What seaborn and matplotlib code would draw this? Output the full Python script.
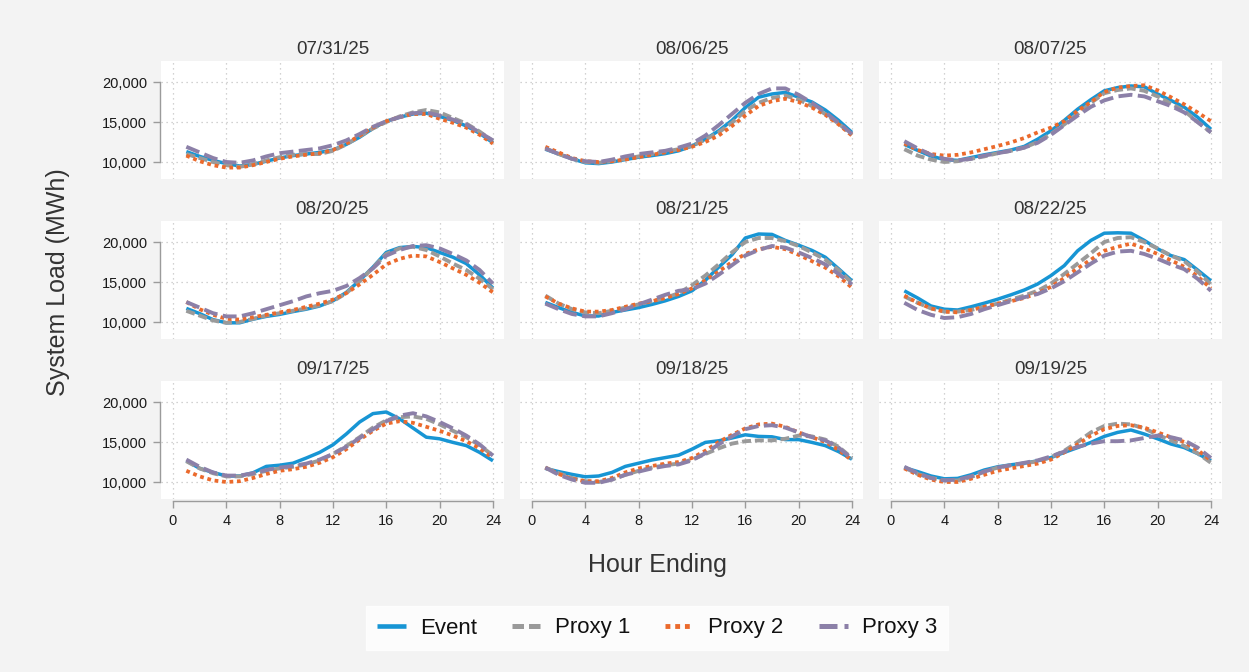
import matplotlib
matplotlib.use("Agg")
import matplotlib.pyplot as plt
from matplotlib.lines import Line2D
from matplotlib.ticker import FuncFormatter
import seaborn as sns
import pandas as pd

# ---- data -------------------------------------------------------------
hours = list(range(1, 25))
dates = ["07/31/25", "08/06/25", "08/07/25",
         "08/20/25", "08/21/25", "08/22/25",
         "09/17/25", "09/18/25", "09/19/25"]
series_names = ["Event", "Proxy 1", "Proxy 2", "Proxy 3"]

event_load = [
    [11300, 10700, 10200, 9800, 9500, 9700, 10100, 10500, 10800, 11000, 11200, 11500, 12200, 13100, 14200, 15100, 15600, 16000, 16100, 15700, 15200, 14500, 13600, 12400],
    [11600, 11000, 10400, 9900, 9800, 10000, 10300, 10600, 10800, 11050, 11400, 12000, 12850, 13900, 15200, 16800, 18100, 18500, 18700, 18100, 17500, 16500, 15200, 13700],
    [12200, 11450, 10750, 10300, 10200, 10550, 10900, 11200, 11500, 11950, 12850, 13900, 15200, 16600, 17800, 18900, 19300, 19500, 19400, 18500, 17700, 16850, 15600, 14100],
    [11700, 11050, 10300, 9900, 9900, 10350, 10700, 10950, 11300, 11600, 12000, 12650, 13700, 15200, 16850, 18700, 19300, 19450, 19300, 18700, 18100, 17300, 15900, 14250],
    [12450, 11800, 11200, 10750, 10750, 11200, 11500, 11800, 12200, 12650, 13200, 13900, 15200, 16850, 18400, 20500, 21000, 20950, 20200, 19600, 18950, 18100, 16650, 15150],
    [13900, 13000, 12000, 11600, 11500, 11900, 12350, 12850, 13400, 14000, 14750, 15800, 17050, 18900, 20200, 21100, 21150, 21100, 20200, 19150, 18300, 17800, 16500, 15150],
    [12650, 11700, 11200, 10750, 10750, 11150, 11950, 12100, 12350, 13000, 13700, 14650, 16000, 17500, 18550, 18750, 17900, 16750, 15600, 15400, 14950, 14550, 13700, 12650],
    [11700, 11300, 10950, 10650, 10750, 11200, 11950, 12350, 12750, 13050, 13350, 14100, 14950, 15150, 15500, 15900, 15700, 15650, 15300, 15300, 14950, 14550, 13800, 12850],
    [11800, 11300, 10750, 10400, 10450, 10900, 11500, 11900, 12150, 12350, 12650, 13050, 13700, 14300, 14950, 15700, 16200, 16500, 16000, 15400, 14750, 14300, 13550, 12650],
]
proxy1_load = [
    [11000, 10500, 10000, 9600, 9400, 9700, 10200, 10600, 10900, 11000, 11000, 11400, 12200, 13200, 14200, 15000, 15700, 16200, 16500, 16200, 15500, 14800, 13800, 12600],
    [11700, 11000, 10400, 10000, 9900, 10100, 10400, 10700, 11000, 11300, 11600, 12000, 12800, 13700, 14900, 16400, 17400, 18000, 18300, 17800, 17000, 16000, 14800, 13400],
    [11600, 10800, 10300, 10000, 10100, 10400, 10700, 11100, 11400, 11800, 12500, 13500, 14700, 16000, 17400, 18600, 19000, 19200, 18900, 18200, 17300, 16400, 15000, 13700],
    [11400, 10800, 10200, 9900, 10000, 10400, 10800, 11100, 11400, 11700, 12100, 12600, 13600, 15100, 16800, 18500, 19200, 19400, 19000, 18200, 17300, 16500, 15400, 14100],
    [13300, 12300, 11600, 11200, 11100, 11400, 11800, 12200, 12600, 13000, 13600, 14600, 15800, 17200, 18700, 20000, 20500, 20500, 20100, 19500, 18700, 17800, 16500, 14900],
    [13200, 12400, 11700, 11300, 11300, 11500, 11900, 12300, 12800, 13300, 13900, 14800, 16000, 17300, 18600, 20000, 20500, 20600, 20000, 19200, 18300, 17600, 16300, 14700],
    [12600, 11700, 11100, 10700, 10700, 11000, 11400, 11700, 11900, 12200, 12700, 13500, 14500, 15600, 16800, 17700, 18100, 18200, 17900, 17200, 16400, 15600, 14600, 13300],
    [11800, 11100, 10500, 10100, 10000, 10300, 10900, 11400, 11800, 12100, 12300, 12800, 13500, 14200, 14800, 15100, 15200, 15200, 15400, 15800, 15700, 15300, 14400, 13000],
    [11800, 11000, 10500, 10200, 10200, 10600, 11300, 11800, 12100, 12300, 12600, 13100, 13900, 15000, 16200, 17000, 17300, 17200, 16700, 15900, 15200, 14500, 13600, 12400],
]
proxy2_load = [
    [10800, 10100, 9600, 9300, 9300, 9600, 10000, 10400, 10700, 10900, 11100, 11500, 12300, 13300, 14300, 15100, 15600, 16000, 16000, 15400, 14900, 14300, 13400, 12300],
    [11900, 11200, 10500, 10100, 10000, 10100, 10300, 10600, 10900, 11200, 11500, 11900, 12500, 13300, 14500, 15800, 17000, 17600, 17900, 17500, 16800, 15900, 14700, 13300],
    [12300, 11500, 11000, 10800, 10900, 11200, 11600, 12000, 12450, 13000, 13700, 14300, 15100, 16400, 17500, 18750, 19300, 19500, 19600, 18950, 18100, 17200, 16200, 15100],
    [12500, 11600, 10900, 10400, 10300, 10600, 10900, 11200, 11500, 11900, 12300, 12800, 13600, 14700, 15900, 17200, 17900, 18300, 18200, 17500, 16700, 15900, 14900, 13700],
    [13200, 12300, 11700, 11300, 11300, 11500, 11900, 12300, 12600, 13000, 13500, 14200, 15200, 16300, 17500, 18500, 19100, 19400, 19100, 18400, 17600, 16800, 15700, 14300],
    [13300, 12400, 11700, 11300, 11200, 11500, 11900, 12300, 12600, 13000, 13600, 14400, 15500, 16700, 17800, 18900, 19400, 19800, 19200, 18500, 17700, 16900, 15700, 14200],
    [11400, 10700, 10200, 10000, 10100, 10500, 11000, 11400, 11600, 11900, 12400, 13100, 14100, 15300, 16400, 17300, 17600, 17400, 16900, 16400, 15800, 15100, 14200, 13000],
    [11800, 11000, 10400, 10100, 10100, 10500, 11200, 11700, 12000, 12300, 12500, 13000, 13900, 15000, 15900, 16700, 17200, 17300, 16900, 16200, 15600, 15000, 14000, 12700],
    [11700, 10900, 10300, 10000, 10000, 10400, 10900, 11400, 11700, 12000, 12300, 12800, 13700, 14700, 15800, 16600, 17000, 17100, 16800, 16200, 15600, 15000, 14000, 12700],
]
proxy3_load = [
    [11900, 11200, 10500, 10000, 9900, 10200, 10700, 11100, 11300, 11500, 11700, 12100, 12700, 13500, 14400, 15100, 15600, 16100, 16200, 15800, 15300, 14700, 13700, 12700],
    [11700, 11000, 10400, 10100, 10000, 10300, 10700, 11000, 11200, 11400, 11800, 12300, 13300, 14600, 16000, 17400, 18500, 19200, 19200, 18400, 17400, 16200, 14900, 13500],
    [12600, 11700, 10900, 10400, 10200, 10400, 10800, 11100, 11400, 11800, 12400, 13400, 14600, 15800, 16900, 17700, 18200, 18400, 18200, 17600, 17000, 16200, 15000, 13700],
    [12500, 11800, 11100, 10700, 10700, 11100, 11600, 12100, 12600, 13200, 13600, 13900, 14500, 15500, 16700, 18300, 19000, 19500, 19600, 19200, 18500, 17700, 16500, 14800],
    [12300, 11600, 11000, 10700, 10700, 11100, 11600, 12200, 12800, 13400, 13900, 14100, 14800, 15900, 17100, 18300, 19000, 19500, 19300, 18700, 18000, 17200, 16000, 14700],
    [12400, 11500, 10900, 10500, 10600, 11000, 11600, 12100, 12600, 13100, 13500, 14200, 15100, 16200, 17300, 18300, 18800, 18900, 18500, 17900, 17200, 16600, 15400, 13900],
    [12800, 11900, 11200, 10800, 10800, 11100, 11500, 11800, 12000, 12300, 12800, 13500, 14400, 15500, 16600, 17600, 18300, 18600, 18200, 17500, 16700, 15800, 14700, 13300],
    [11800, 10900, 10300, 9900, 9900, 10300, 10900, 11300, 11700, 12000, 12200, 12700, 13600, 14700, 15700, 16600, 17000, 17100, 16800, 16200, 15600, 15200, 14300, 12900],
    [11900, 11100, 10500, 10200, 10300, 10700, 11300, 11800, 12100, 12400, 12700, 13200, 13800, 14400, 14800, 15100, 15100, 15200, 15500, 15800, 15600, 15200, 14300, 13000],
]

x_ticks = [0, 4, 8, 12, 16, 20, 24]
y_ticks = [10000, 15000, 20000]

# ---- styling ----------------------------------------------------------
palette = {"Event": "#1795d4", "Proxy 1": "#9a9a9a",
           "Proxy 2": "#eb6a2c", "Proxy 3": "#8c80a8"}
dash_map = {"Event": "", "Proxy 1": (2.3, 1.0),
            "Proxy 2": (1.0, 1.0), "Proxy 3": (3.6, 1.4)}
width_map = {"Event": 2.5, "Proxy 1": 2.8, "Proxy 2": 2.7, "Proxy 3": 2.8}

sns.set_theme(style="white")
plt.rcParams["font.family"] = ["Liberation Sans", "DejaVu Sans"]

bg = "#f3f3f3"
axis_gray = "#9b9b9b"
text_dark = "#333333"

records = []
for d, ev, p1, p2, p3 in zip(dates, event_load, proxy1_load, proxy2_load, proxy3_load):
    for name, vals in zip(series_names, [ev, p1, p2, p3]):
        for h, v in zip(hours, vals):
            records.append({"date": d, "hour": h, "series": name, "load": v})
df = pd.DataFrame(records)

W, H = 1249, 672
fig = plt.figure(figsize=(W / 100, H / 100), dpi=100, facecolor=bg)


def rect(left, top, w, h):
    return [left / W, 1 - (top + h) / H, w / W, h / H]


col_left = [161, 520, 879]
row_top = [61, 221, 381]
pw, ph = 343, 118
fmt = FuncFormatter(lambda v, _: f"{v:,.0f}")

for i, d in enumerate(dates):
    r, c = divmod(i, 3)
    ax = fig.add_axes(rect(col_left[c], row_top[r], pw, ph))
    ax.set_facecolor("white")
    sub = df[df["date"] == d]
    sns.lineplot(data=sub, x="hour", y="load", hue="series", style="series",
                 size="series", hue_order=series_names, style_order=series_names,
                 size_order=series_names, palette=palette, dashes=dash_map,
                 sizes=width_map, errorbar=None, legend=False, ax=ax)
    for ln in ax.lines:
        ln.set_dash_capstyle("butt")
        ln.set_solid_capstyle("butt")

    ax.set_xlim(-0.9, 24.83)
    ax.set_ylim(7875, 22625)
    ax.set_xticks(x_ticks)
    ax.set_yticks(y_ticks)
    ax.yaxis.set_major_formatter(fmt)
    ax.grid(True, color="#c4c4c4", linestyle=(0, (1, 3)), linewidth=0.9)
    ax.set_xlabel("")
    ax.set_ylabel("")
    ax.set_title(d, fontsize=13.5, color=text_dark, pad=5)

    for s in ["top", "right"]:
        ax.spines[s].set_visible(False)

    if c == 0:
        ax.spines["left"].set_visible(True)
        ax.spines["left"].set_color(axis_gray)
        ax.spines["left"].set_linewidth(1.0)
        ax.spines["left"].set_bounds(10000, 20000)
        ax.spines["left"].set_position(("outward", 1))
        ax.tick_params(axis="y", length=5, width=1.0, color=axis_gray,
                       pad=4, labelsize=10.5, labelcolor="#1a1a1a", left=True)
    else:
        ax.spines["left"].set_visible(False)
        ax.tick_params(axis="y", left=False, labelleft=False)

    if r == 2:
        ax.spines["bottom"].set_visible(True)
        ax.spines["bottom"].set_color(axis_gray)
        ax.spines["bottom"].set_linewidth(1.0)
        ax.spines["bottom"].set_bounds(0, 24)
        ax.spines["bottom"].set_position(("outward", 1.5))
        ax.tick_params(axis="x", length=5, width=1.0, color=axis_gray,
                       pad=4, labelsize=10.5, labelcolor="#1a1a1a", bottom=True)
    else:
        ax.spines["bottom"].set_visible(False)
        ax.tick_params(axis="x", bottom=False, labelbottom=False)

fig.text(58 / W, 1 - 282 / H, "System Load (MWh)", rotation=90,
         ha="center", va="center", fontsize=18, color=text_dark)
fig.text(657 / W, 1 - 565 / H, "Hour Ending", ha="center", va="center",
         fontsize=18, color=text_dark)

handles = []
for name in series_names:
    ln = Line2D([], [], color=palette[name], linewidth=width_map[name] + 0.8,
                dash_capstyle="butt", solid_capstyle="butt")
    if dash_map[name]:
        ln.set_dashes(dash_map[name])
    handles.append(ln)

leg = fig.legend(handles, series_names, loc="center",
                 bbox_to_anchor=(657 / W, 1 - 628 / H), ncol=4,
                 frameon=True, fancybox=False, facecolor="white",
                 edgecolor="white", fontsize=16, handlelength=1.3,
                 handletextpad=0.63, columnspacing=1.58, borderpad=0.5,
                 borderaxespad=0)
for t in leg.get_texts():
    t.set_color("#111111")

fig.savefig("out.png", dpi=100, facecolor=bg)
